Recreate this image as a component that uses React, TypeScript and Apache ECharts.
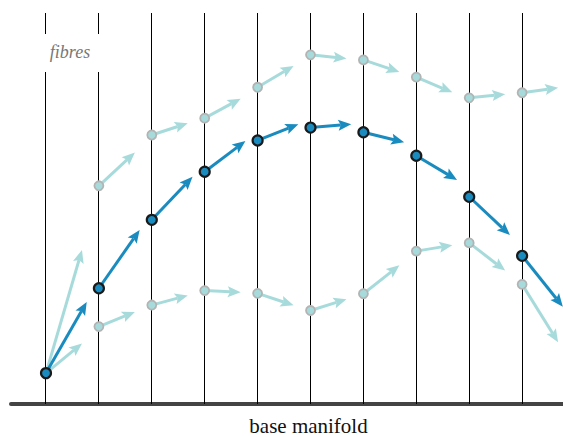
import React, { useEffect, useRef } from "react";
import * as echarts from "echarts";

// fibre positions (index along base manifold)
const fibres = [0, 1, 2, 3, 4, 5, 6, 7, 8, 9];
// heights of the three sections along each fibre
const darkY = [7.9, 29.6, 47.1, 59.4, 67.4, 70.7, 69.5, 63.5, 53.0, 37.9];
const upperY = [7.9, 55.8, 68.8, 73.1, 81.0, 89.3, 88.0, 83.6, 78.3, 79.6];
const lowerY = [7.9, 19.8, 25.3, 29.0, 28.3, 23.9, 28.2, 39.1, 41.2, 30.6];
// tangent vectors (rise over a fixed run)
const darkRun = 0.77;
const lightRun = 0.68;
const darkRise = [18.2, 14.9, 11.0, 7.85, 4.17, 0.87, -2.56, -6.2, -9.8, -13.0];
const upperRise = [31.5, 8.5, 3.0, 5.0, 5.45, -0.92, -3.07, -3.9, 0.95, 1.28];
const lowerRise = [7.6, 3.76, 2.48, -0.41, -3.07, 2.92, 7.26, 1.53, -7.08, -14.8];

const DARK = "#1a8bbf";
const LIGHT = "#a7dbdb";
const SERIF = "'Liberation Serif', 'DejaVu Serif', serif";

function arrowRenderer(color: string, width: number) {
  return (params: any, api: any) => {
    const x = api.value(0), y = api.value(1), dx = api.value(2), dy = api.value(3);
    const p0 = api.coord([x, y]);
    const p1 = api.coord([x + dx, y + dy]);
    const vx = p1[0] - p0[0], vy = p1[1] - p0[1];
    const len = Math.sqrt(vx * vx + vy * vy);
    const ux = vx / len, uy = vy / len;
    const nx = -uy, ny = ux;
    const hl = 13, hw = 5.5, notch = 2.5;
    const bx = p1[0] - ux * hl, by = p1[1] - uy * hl;
    const mx = p1[0] - ux * (hl - notch), my = p1[1] - uy * (hl - notch);
    return {
      type: "group",
      children: [
        {
          type: "line",
          shape: { x1: p0[0], y1: p0[1], x2: mx, y2: my },
          style: { stroke: color, lineWidth: width },
        },
        {
          type: "polygon",
          shape: {
            points: [
              [p1[0], p1[1]],
              [bx + nx * hw, by + ny * hw],
              [mx, my],
              [bx - nx * hw, by - ny * hw],
            ],
          },
          style: { fill: color },
        },
      ],
    };
  };
}

export default function App() {
  const ref = useRef<HTMLDivElement>(null);
  useEffect(() => {
    document.body.style.margin = "0";
    const chart = echarts.init(ref.current!, null, { renderer: "svg" });
    const darkArrows = fibres.map((f, i) => [f, darkY[i], darkRun, darkRise[i]]);
    const upperArrows = fibres.map((f, i) => [f, upperY[i], lightRun, upperRise[i]]);
    const lowerArrows = fibres.map((f, i) => [f, lowerY[i], lightRun, lowerRise[i]]);
    const lightPoints = fibres
      .slice(1)
      .flatMap((f, k) => [[f, upperY[k + 1]], [f, lowerY[k + 1]]]);
    const darkPoints = fibres.map((f, i) => [f, darkY[i]]);

    chart.setOption({
      animation: false,
      grid: { left: 11, right: 0, top: 13, bottom: 33 },
      xAxis: {
        type: "value",
        min: -0.6616,
        max: 9.773,
        axisLine: { show: true, lineStyle: { color: "#444", width: 4 } },
        axisTick: { show: false },
        axisLabel: { show: false },
        splitLine: { show: false },
      },
      yAxis: {
        type: "value",
        min: 0,
        max: 100,
        show: false,
        splitLine: { show: false },
      },
      series: [
        {
          type: "custom",
          z: 1,
          data: fibres.map((f) => [f]),
          renderItem: (params: any, api: any) => {
            const a = api.coord([api.value(0), 0]);
            const b = api.coord([api.value(0), 100]);
            const px = Math.floor(a[0]) + 0.5;
            return {
              type: "line",
              shape: { x1: px, y1: a[1], x2: px, y2: b[1] },
              style: { stroke: "#000", lineWidth: 1 },
            };
          },
        },
        {
          type: "custom",
          z: 2,
          data: upperArrows.concat(lowerArrows),
          renderItem: arrowRenderer(LIGHT, 3),
        },
        {
          type: "scatter",
          z: 3,
          data: lightPoints,
          symbolSize: 9,
          itemStyle: { color: LIGHT, borderColor: "#b3b3b3", borderWidth: 1.8, opacity: 1 },
        },
        {
          type: "custom",
          z: 4,
          data: darkArrows,
          renderItem: arrowRenderer(DARK, 3),
        },
        {
          type: "scatter",
          z: 5,
          data: darkPoints,
          symbolSize: 10,
          itemStyle: { color: DARK, borderColor: "#1a1a1a", borderWidth: 2.2, opacity: 1 },
        },
      ],
      graphic: [
        {
          type: "rect",
          z: 100,
          shape: { x: 41, y: 34, width: 60, height: 38 },
          style: { fill: "#fff" },
        },
        {
          type: "text",
          z: 101,
          x: 70,
          y: 52,
          style: {
            text: "fibres",
            fontFamily: SERIF,
            fontStyle: "italic",
            fontSize: 18,
            fill: "#777",
            align: "center",
            verticalAlign: "middle",
          },
        },
        {
          type: "text",
          z: 101,
          x: 308.5,
          y: 426,
          style: {
            text: "base manifold",
            fontFamily: SERIF,
            fontSize: 21,
            fill: "#111",
            align: "center",
            verticalAlign: "middle",
          },
        },
      ],
    });
    return () => chart.dispose();
  }, []);
  return <div ref={ref} style={{ width: 563, height: 437 }} />;
}
